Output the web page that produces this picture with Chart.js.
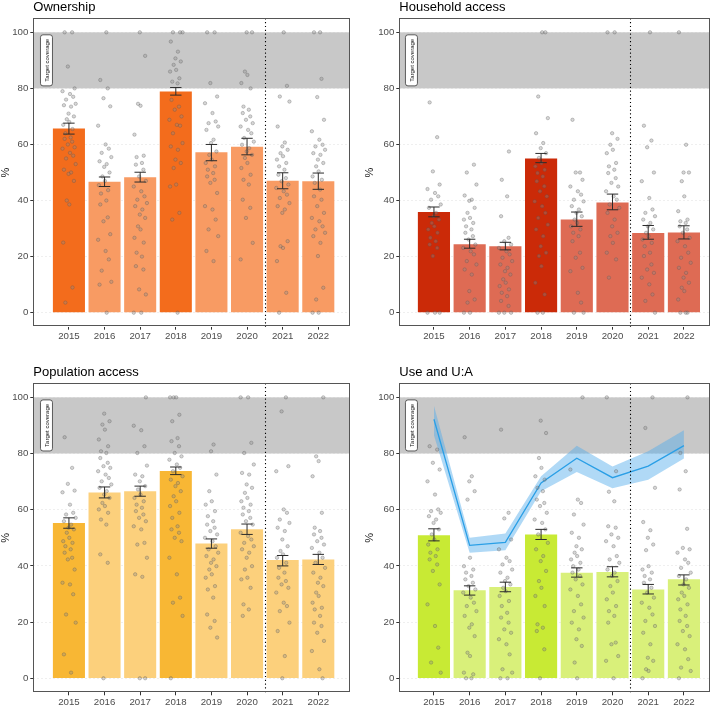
<!DOCTYPE html>
<html>
<head>
<meta charset="utf-8">
<script src="https://cdn.jsdelivr.net/npm/chart.js@4.4.1/dist/chart.umd.min.js"></script>
<style>
  body { margin: 0; background: #fff; width: 720px; height: 705px; position: relative; overflow: hidden; }
  canvas { position: absolute; }
</style>
</head>
<body>
<canvas id="ownChart" width="360" height="350" style="left:0;top:0"></canvas>
<canvas id="hhChart" width="360" height="350" style="left:360px;top:0"></canvas>
<canvas id="popChart" width="360" height="355" style="left:0;top:350px"></canvas>
<canvas id="useChart" width="360" height="355" style="left:360px;top:350px"></canvas>
<script>
// DATA
const years = [2015, 2016, 2017, 2018, 2019, 2020, 2021, 2022];
const darkYears = [2015, 2018];
const yTicks = [0, 20, 40, 60, 80, 100];
const targetRange = [80, 100];
const targetLabel = "Target coverage";

// Ownership
const ownMean = [65.7, 46.7, 48.3, 78.9, 57.2, 59.2, 47.1, 46.9];
const ownLow = [63.7, 45.0, 46.6, 77.6, 54.2, 56.3, 44.2, 44.0];
const ownHigh = [67.6, 48.4, 50.1, 80.3, 60.0, 62.2, 49.9, 49.8];
const ownDots = [
  [100, 100, 87.8, 80, 79, 78, 77, 76, 74.5, 74, 73.5, 71, 70, 69, 68, 67, 65.5, 64, 62.5, 62, 61, 60, 59, 58.5, 57, 56, 55, 53, 51, 50, 49.5, 47, 40, 38.6, 25, 9, 3.6],
  [100, 83, 80, 76.5, 73.6, 66.7, 60, 58.5, 57, 55.5, 54, 53, 52, 50, 48.6, 47, 45.5, 43.7, 42.5, 40, 38.6, 34, 32.6, 28, 26, 22, 19, 15, 11, 10, 0],
  [100, 91.6, 74.5, 73.8, 63.5, 56, 55.5, 53.4, 52.8, 51, 48.6, 47, 45, 43.3, 41.5, 40.3, 39.1, 38, 36.8, 35, 33.8, 30.8, 29.7, 26.7, 25, 21.4, 20, 16.6, 15.4, 8.3, 6.5, 0, 0],
  [100, 100, 100, 96.7, 93.1, 90.7, 89.6, 88.4, 86.6, 86, 83.6, 82.4, 81.8, 75.9, 73.5, 72.4, 70, 68.8, 67, 66.7, 64, 60.5, 59.3, 58.1, 54.6, 53.4, 51.6, 45.7, 45, 35.6, 33.2, 0],
  [100, 100, 81.9, 77.1, 74.7, 71.2, 68.2, 67.6, 66.4, 65.2, 61.7, 60.5, 57.5, 56.3, 54.6, 53.4, 52.2, 51, 49.8, 48.6, 47.4, 46.3, 42.7, 38, 36.8, 33.2, 29.7, 27.3, 22, 18.4],
  [100, 100, 86, 84.8, 81.9, 80, 73.5, 72.4, 71.2, 70, 68.8, 67.6, 66.4, 65.2, 64, 62.3, 61, 59.9, 58.7, 57.5, 56.3, 55.2, 53.4, 51.6, 49.2, 47.4, 45.7, 40.3, 37.4, 33.8, 24.9, 19],
  [100, 80.9, 77.1, 75.3, 66.4, 60.7, 59.3, 58.1, 56.9, 55.8, 54.6, 53.4, 52.2, 51, 49.2, 48, 46.9, 45.7, 44.5, 43.3, 42.1, 40.9, 39.1, 38, 36.8, 35.6, 25.5, 23.7, 23.1, 18.4, 7.1, 0],
  [100, 100, 83.4, 76.9, 68.8, 64.7, 61.7, 59.9, 59.3, 58.1, 56.9, 56.3, 54.6, 53.4, 52.2, 50.4, 48.6, 47.4, 46.3, 43.9, 41.5, 40.3, 38, 35.6, 33.8, 32.6, 30.8, 29.7, 28.5, 27.3, 24.9, 20.2, 8.9, 4.7, 0, 0]
];

// Household access
const hhMean = [35.9, 24.4, 23.7, 55.0, 33.2, 39.3, 28.4, 28.6];
const hhLow = [34.2, 23.0, 22.4, 53.5, 30.8, 36.7, 26.2, 26.3];
const hhHigh = [37.7, 26.2, 25.1, 56.8, 35.9, 42.3, 31.1, 31.0];
const hhDots = [
  [75, 62.6, 50.4, 45.7, 44.1, 42.7, 41.5, 40.3, 38.6, 37.4, 35.6, 34.4, 33.2, 32, 30.8, 29.7, 28.5, 26.7, 25.5, 24.3, 23.1, 20.2, 0, 0, 0],
  [52.8, 50, 45.7, 41.8, 40.3, 39.9, 37.4, 35.6, 33.8, 33.2, 32, 30.8, 29.7, 28.5, 27.3, 26.1, 24.3, 23.1, 21.9, 20.8, 18.4, 17.2, 15.4, 13.6, 7.7, 4.7, 3.6, 0, 0],
  [57.5, 47.4, 41.5, 34.4, 26.7, 25.5, 24.3, 23.1, 21.9, 20.8, 19.6, 18.4, 17.2, 16, 14.8, 13.6, 11.9, 10.7, 9.5, 8.3, 7.1, 5.9, 4.2, 2.4, 0, 0, 0],
  [100, 100, 77.1, 69.4, 64, 60.5, 58.7, 56.9, 55.2, 53.4, 52.2, 51, 49.8, 48.6, 46.9, 45.1, 43.3, 41.5, 39.7, 38, 35.6, 33.8, 31.4, 29.7, 27.3, 23.7, 21.4, 20.2, 16.6, 10.7, 6.5, 0, 0],
  [68.8, 50, 50, 47.4, 45, 43.3, 42.1, 40.3, 39.7, 38, 36.8, 35.6, 34.4, 33.2, 32, 30.8, 29.7, 28.5, 27.3, 25.5, 21.4, 19.6, 16, 14.8, 7.1, 3.6, 0, 0],
  [100, 100, 64, 62, 59.9, 58.1, 56.9, 53.4, 52.2, 51, 49.8, 48, 46.3, 45, 43.3, 41.5, 40.3, 38.6, 37.4, 35.6, 33.2, 30.8, 28.5, 27.3, 24.9, 21.4, 19, 12.5],
  [100, 66.7, 61.4, 59, 50, 46.9, 40.9, 36.8, 35.6, 34.4, 33.2, 32, 30.8, 29.7, 28.5, 27.3, 26.1, 24.9, 23.7, 21.4, 20.2, 17.2, 15.4, 14.2, 12.5, 10.1, 6.5, 4.2, 0],
  [100, 59.9, 50, 50, 46.9, 41.5, 36.2, 33.2, 32.6, 32, 30.8, 29.7, 28.5, 26.7, 25.5, 23.7, 21.4, 19.6, 17.8, 16, 14.2, 12.5, 10.7, 8.9, 7.7, 4.7, 0, 0, 0]
];

// Population access
const popMean = [55.3, 66.1, 66.6, 73.8, 48.0, 53.0, 42.1, 42.3];
const popLow = [53.4, 64.2, 64.8, 72.5, 46.3, 51.2, 40.0, 40.5];
const popHigh = [57.1, 68.1, 68.4, 75.2, 49.6, 54.9, 43.7, 44.1];
const popDots = [
  [85.8, 74.9, 69.2, 66.8, 66.2, 61.8, 58.9, 58.3, 57.1, 55.9, 54.7, 53.6, 53, 51.8, 50, 48.8, 48.2, 47, 45.9, 44.7, 42.9, 42.3, 38.7, 34, 33.4, 29.9, 22.7, 19.8, 8.5, 2],
  [94.2, 91.5, 90.3, 88.5, 85, 82.6, 80.8, 80.2, 78.4, 76.7, 75.5, 74.9, 73.7, 72.5, 71.3, 70.1, 69, 67.8, 66.6, 65.4, 64.2, 62.4, 61.3, 60.1, 58.9, 56.5, 54.7, 44.1, 41.1, 0],
  [100, 89.9, 88.3, 82.6, 80.2, 75.7, 72.5, 71.9, 70.1, 68.4, 67.2, 65.4, 64.2, 63, 61.8, 60.7, 59.5, 58.3, 57.1, 55.9, 54.1, 53, 48.2, 47.6, 42.9, 37, 36.1, 0, 0],
  [100, 100, 100, 93.8, 91.5, 85.5, 84.4, 82.6, 80.2, 79, 77.8, 76.1, 74.9, 73.7, 71.9, 70.7, 69.5, 68.4, 66.6, 64.8, 63, 61.3, 58.9, 57.1, 54.1, 53, 51.8, 50, 48.8, 42.9, 37, 28.7, 26.9, 22.2, 0],
  [83.2, 80.8, 72.5, 66.6, 63, 61.8, 59.5, 57.7, 55.9, 54.7, 53.6, 52.4, 51.2, 50, 48.8, 47, 45.9, 44.7, 43.5, 42.3, 41.1, 39.9, 38.7, 37, 35.8, 32.8, 31.6, 28.7, 22.7, 20.4, 18, 14.5],
  [100, 100, 83.8, 80.2, 76.1, 73.1, 72.5, 69, 67.8, 66, 64.2, 63, 61.8, 60.7, 59.5, 58.3, 57.1, 55.9, 54.7, 51.8, 50.6, 49.4, 48.2, 47, 45.9, 44.7, 42.9, 39.9, 38.7, 35.8, 35.2, 32.2, 26.3, 24.5, 22.2],
  [100, 95, 75.5, 73.7, 60.1, 58.9, 56.5, 55.3, 53.6, 52.4, 49.4, 47, 45.3, 44.1, 42.9, 41.1, 39.3, 37.6, 35.8, 34.6, 33.4, 32.2, 30.5, 26.9, 25.7, 23.9, 19.8, 16.8, 7.9, 0],
  [100, 79, 77.3, 71.9, 58.9, 53.6, 52.4, 51.2, 50, 48.8, 47.6, 46.4, 44.7, 42.9, 41.1, 39.3, 37.6, 35.8, 34, 32.8, 30.5, 29.3, 26.9, 25.1, 24.5, 22.2, 19.8, 18.6, 16.2, 13.3, 9.7, 3.2, 0]
];

// Use and U:A
const useMean = [50.9, 31.3, 32.5, 51.2, 37.6, 37.8, 31.6, 35.2];
const useLow = [48.9, 29.6, 30.8, 49.4, 36.0, 36.1, 30.0, 33.2];
const useHigh = [53.2, 32.9, 34.2, 53.0, 39.3, 39.7, 33.4, 36.8];
const useDots = [
  [82.6, 81.4, 76.7, 74.3, 70.1, 65.4, 60.1, 59.5, 58.9, 57.7, 56.5, 55.3, 53, 51.2, 49.4, 47.6, 45.9, 44.7, 43.5, 42.3, 40.5, 38.2, 33.4, 26.3, 18.6, 10.9, 5.6, 2],
  [85.8, 71.9, 70.1, 66.6, 63.6, 42.9, 39.9, 38.7, 37.6, 36.4, 35.2, 34, 32.8, 31.6, 30.5, 28.7, 26.9, 25.7, 23.9, 22.2, 19.2, 18, 15, 9.1, 7.9, 2, 1.4, 0, 0],
  [88.5, 58.9, 56.9, 49.4, 45.9, 42.9, 41.7, 40.5, 38.7, 37.6, 35.8, 34.6, 33.4, 32.2, 31, 29.3, 27.5, 25.7, 23.3, 21.6, 19.8, 17.4, 16.2, 13.9, 12.1, 8.5, 3.2, 2, 0, 0],
  [91.7, 87.3, 78.4, 74.9, 71.9, 70.7, 67.8, 66.6, 63.6, 62.4, 61.3, 58.9, 56.5, 55.3, 53, 51.2, 48.2, 45.9, 43.5, 41.7, 38.2, 34.6, 32.2, 29.3, 25.7, 19.2, 18, 16.8, 10.3, 0],
  [100, 74.3, 63.6, 62.4, 58.3, 54.7, 51.8, 50, 47, 45.9, 44.7, 43.5, 42.3, 41.1, 39.9, 38.7, 37.6, 36.4, 35.2, 33.4, 31.6, 29.3, 26.3, 23.9, 21.6, 19.8, 17.4, 13.9, 11.5, 5.6, 0],
  [100, 73.7, 66.4, 63, 54.1, 53.6, 51.2, 50, 48.8, 47, 43.5, 42.3, 41.1, 38.7, 37.6, 36.4, 34.6, 32.8, 30.5, 28.1, 25.7, 23.9, 22.2, 19.8, 12.7, 12.1, 7.9, 6.2, 0],
  [100, 89.1, 67.8, 55.6, 52.7, 50, 47.6, 45.6, 39.9, 38.7, 37.6, 36.4, 35.2, 34, 32.2, 30.5, 28.7, 26.9, 25.1, 22.7, 20.4, 18.6, 16.2, 12.1, 7.3, 6.2, 3.2, 2.6, 0],
  [100, 80.2, 73.7, 67.2, 53.2, 46.4, 45.9, 44.7, 42.3, 41.1, 39.3, 37.6, 36.4, 35.2, 33.4, 32.2, 30.5, 29.3, 28.1, 26.3, 24.5, 22.2, 20.4, 18.6, 16.8, 15, 12.1, 10.3, 6.8, 3.8, 2.6, 0]
];
const uaLine = [92.2, 47.3, 48.4, 69.5, 78.3, 71.4, 75.5, 82.8];
const uaUpper = [97.0, 50.0, 51.5, 71.9, 82.8, 75.4, 80.8, 88.3];
const uaLower = [86.5, 44.7, 45.6, 66.6, 73.4, 67.6, 70.7, 78.2];

// STYLE
const FONT = '"Liberation Sans", Arial, sans-serif';
const JITTER = [-0.12, 0.09, -0.03, 0.16, -0.18, 0.03, 0.12, -0.08, 0.19, -0.14, 0.06, -0.01, 0.14, -0.06, 0.01, -0.16, 0.1, -0.1, 0.05];
const SPLIT_AT = 2020.5;
const LABEL_POS = [2014.37, 90];
const CAP = 0.16;

function xy(vals) {
  return years.map((yr, i) => ({ x: yr, y: vals[i] }));
}

function jittered(dots) {
  var pts = [];
  var k = 0;
  dots.forEach(function(list, i) {
    list.forEach(function(v) {
      pts.push({ x: years[i] + JITTER[k % JITTER.length], y: v });
      k++;
    });
  });
  return pts;
}

//PANEL DECORATION PLUGIN
const panelDecor = {
  id: 'panelDecor',
  beforeDatasetsDraw(chart) {
    const { ctx, chartArea: a, scales: { x, y } } = chart;
    const t = y.getPixelForValue(targetRange[1]);
    const b = y.getPixelForValue(targetRange[0]);
    ctx.save();
    ctx.fillStyle = '#c8c8c8';
    ctx.fillRect(a.left, t, a.right - a.left, b - t);

    // target label (rotated geom_label)
    ctx.translate(x.getPixelForValue(LABEL_POS[0]), y.getPixelForValue(LABEL_POS[1]));
    ctx.rotate(-Math.PI / 2);
    ctx.font = '6px ' + FONT;
    const w = ctx.measureText(targetLabel).width + 8;
    const h = 12;
    ctx.beginPath();
    ctx.roundRect(-w / 2, -h / 2, w, h, 2.5);
    ctx.fillStyle = '#fff';
    ctx.fill();
    ctx.lineWidth = 0.7;
    ctx.strokeStyle = '#222';
    ctx.stroke();
    ctx.fillStyle = '#111';
    ctx.textAlign = 'center';
    ctx.textBaseline = 'middle';
    ctx.fillText(targetLabel, 0, 0.5);
    ctx.restore();
  },
  afterDatasetsDraw(chart) {
    const { ctx, chartArea: a, scales: { x, y } } = chart;
    const o = chart.options.plugins.panelDecor;
    ctx.save();
    // error bars
    ctx.strokeStyle = '#2b2b2b';
    ctx.lineWidth = 1;
    years.forEach(function(yr, i) {
      const cx = x.getPixelForValue(yr);
      const lo = y.getPixelForValue(o.low[i]);
      const hi = y.getPixelForValue(o.high[i]);
      const l = x.getPixelForValue(yr - CAP);
      const r = x.getPixelForValue(yr + CAP);
      ctx.beginPath();
      ctx.moveTo(cx, lo); ctx.lineTo(cx, hi);
      ctx.moveTo(l, lo); ctx.lineTo(r, lo);
      ctx.moveTo(l, hi); ctx.lineTo(r, hi);
      ctx.stroke();
    });
    // dotted split line
    const sx = Math.round(x.getPixelForValue(SPLIT_AT)) + 0.5;
    ctx.strokeStyle = '#000';
    ctx.lineWidth = 1.1;
    ctx.setLineDash([1.2, 2.6]);
    ctx.beginPath();
    ctx.moveTo(sx, a.top);
    ctx.lineTo(sx, a.bottom);
    ctx.stroke();
    ctx.restore();
  },
  afterDraw(chart) {
    const { ctx, chartArea: a } = chart;
    const o = chart.options.plugins.panelDecor;
    ctx.save();
    ctx.strokeStyle = '#555';
    ctx.lineWidth = 1;
    ctx.strokeRect(Math.round(a.left) + 0.5, Math.round(a.top) + 0.5,
      Math.round(a.right - a.left) - 1, Math.round(a.bottom - a.top) - 1);
    ctx.fillStyle = '#000';
    ctx.font = '13px ' + FONT;
    ctx.textAlign = 'left';
    ctx.textBaseline = 'alphabetic';
    ctx.fillText(o.title, a.left, o.titleY);
    ctx.restore();
  }
};

function makePanel(cfg) {
  var datasets = [{
    type: 'bar',
    data: xy(cfg.mean),
    backgroundColor: years.map(yr => darkYears.includes(yr) ? cfg.dark : cfg.light),
    borderWidth: 0,
    barPercentage: 0.9,
    categoryPercentage: 1.0,
    order: 5
  }, {
    type: 'scatter',
    data: jittered(cfg.dots),
    pointRadius: 1.7,
    pointBackgroundColor: 'rgba(140,140,140,0.35)',
    pointBorderColor: 'rgba(85,85,85,0.45)',
    pointBorderWidth: 0.7,
    order: 0
  }];
  if (cfg.extra) datasets = datasets.concat(cfg.extra);

  new Chart(document.getElementById(cfg.id).getContext('2d'), {
    type: 'bar',
    data: { datasets: datasets },
    options: {
      responsive: false,
      animation: false,
      devicePixelRatio: 1,
      layout: { padding: { top: cfg.padTop, right: 10, left: 0, bottom: 0 } },
      plugins: {
        legend: { display: false },
        tooltip: { enabled: false },
        panelDecor: { title: cfg.title, titleY: cfg.titleY, low: cfg.low, high: cfg.high }
      },
      scales: {
        x: {
          type: 'linear',
          min: cfg.xMin,
          max: cfg.xMax,
          offset: false,
          afterBuildTicks: ax => { ax.ticks = years.map(v => ({ value: v })); },
          afterFit: ax => { ax.height = cfg.xAxisH; },
          grid: { offset: false, drawOnChartArea: false, drawTicks: true, tickLength: 3, tickColor: '#333', tickWidth: 1 },
          border: { display: false },
          ticks: {
            autoSkip: false, maxRotation: 0, padding: 1,
            color: '#4d4d4d', font: { family: FONT, size: 9.7 },
            callback: v => String(v)
          }
        },
        y: {
          type: 'linear',
          min: -5,
          max: 105,
          afterBuildTicks: ax => { ax.ticks = yTicks.map(v => ({ value: v })); },
          afterFit: ax => { ax.width = cfg.yAxisW; },
          grid: { color: 'rgba(0,0,0,0.09)', lineWidth: 0.7, tickLength: 3, tickColor: '#333', tickWidth: 1 },
          border: { display: false, dash: [2, 2] },
          ticks: { padding: 2, color: '#4d4d4d', font: { family: FONT, size: 9.7 } },
          title: {
            display: true, text: '%', color: '#1a1a1a',
            font: { family: FONT, size: 11, lineHeight: 1 },
            padding: { top: cfg.yTitlePad, bottom: 0 }
          }
        }
      }
    },
    plugins: [panelDecor]
  });
}

//PANELS
makePanel({
  id: 'ownChart', title: 'Ownership', mean: ownMean, low: ownLow, high: ownHigh, dots: ownDots,
  dark: '#f36c1c', light: '#f89b63',
  xMin: 2014.0, xMax: 2022.89, padTop: 18.3, titleY: 10.5, xAxisH: 23.3, yAxisW: 33.3, yTitlePad: 0
});
makePanel({
  id: 'hhChart', title: 'Household access', mean: hhMean, low: hhLow, high: hhHigh, dots: hhDots,
  dark: '#cb2a08', light: '#de6b54',
  xMin: 2014.03, xMax: 2022.73, padTop: 18.3, titleY: 10.5, xAxisH: 23.3, yAxisW: 39.3, yTitlePad: 4.5
});
makePanel({
  id: 'popChart', title: 'Population access', mean: popMean, low: popLow, high: popHigh, dots: popDots,
  dark: '#f8b734', light: '#fcd07c',
  xMin: 2014.0, xMax: 2022.89, padTop: 33.3, titleY: 25.5, xAxisH: 12.7, yAxisW: 33.3, yTitlePad: 0
});
makePanel({
  id: 'useChart', title: 'Use and U:A', mean: useMean, low: useLow, high: useHigh, dots: useDots,
  dark: '#c8ea34', light: '#d9f07a',
  xMin: 2014.03, xMax: 2022.73, padTop: 33.3, titleY: 25.5, xAxisH: 12.7, yAxisW: 39.3, yTitlePad: 4.5,
  extra: [{
    type: 'line', data: xy(uaUpper), borderWidth: 0, pointRadius: 0, tension: 0,
    backgroundColor: 'rgba(80,170,235,0.45)', fill: '+1', order: 3
  }, {
    type: 'line', data: xy(uaLower), borderWidth: 0, pointRadius: 0, tension: 0, fill: false, order: 3
  }, {
    type: 'line', data: xy(uaLine), borderColor: '#2a9fe6', borderWidth: 1.3, pointRadius: 0,
    tension: 0, fill: false, order: 2
  }]
});
</script>
</body>
</html>
